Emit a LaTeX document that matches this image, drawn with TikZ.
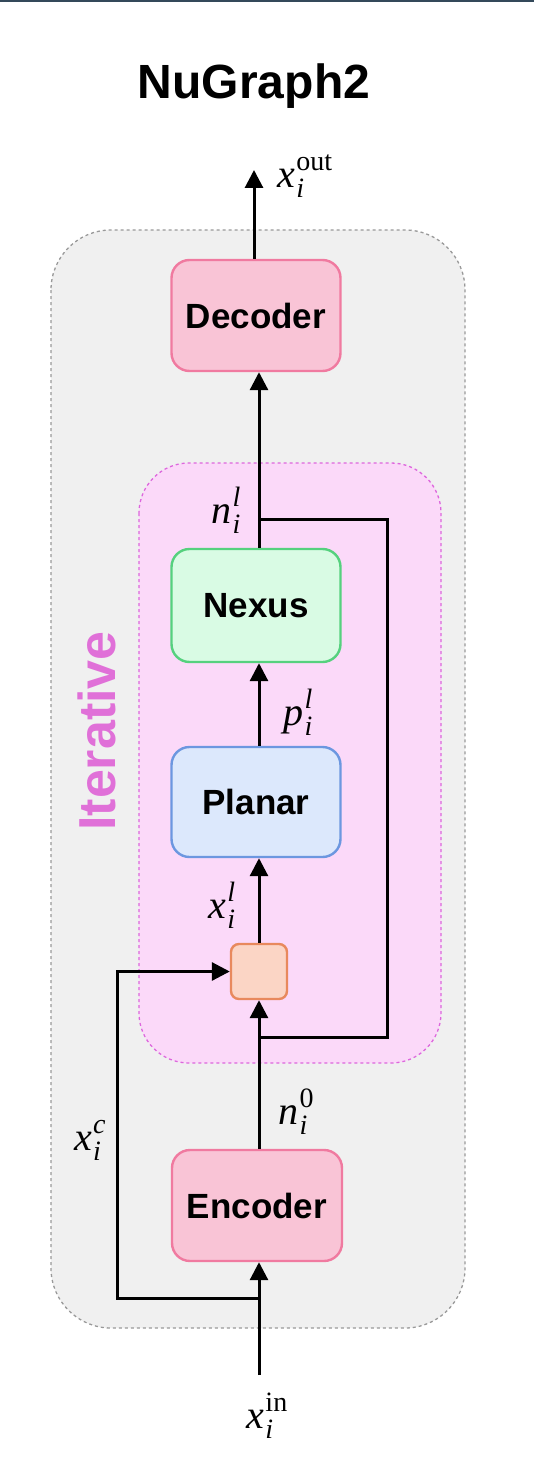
\documentclass[tikz,border=0pt]{standalone}
\usepackage{fontspec}
\newfontfamily\hel{Liberation Sans}
\newfontfamily\tms{Liberation Serif}
\usetikzlibrary{arrows.meta}
\definecolor{topbar}{HTML}{34495A}
\definecolor{outerfill}{HTML}{F0F0F0}
\definecolor{outerline}{HTML}{999999}
\definecolor{iterfill}{HTML}{FBD9F9}
\definecolor{iterline}{HTML}{DD66DD}
\definecolor{itertext}{HTML}{E070D8}
\definecolor{pinkfill}{HTML}{F9C4D6}
\definecolor{pinkline}{HTML}{F07AA0}
\definecolor{greenfill}{HTML}{D9FBE4}
\definecolor{greenline}{HTML}{55D17E}
\definecolor{bluefill}{HTML}{DCE8FC}
\definecolor{blueline}{HTML}{6C97E0}
\definecolor{peachfill}{HTML}{FBD5C5}
\definecolor{peachline}{HTML}{E8895D}
% symbol label: #1 base (italic), #2 superscript (already styled)
\newcommand\symlab[2]{{\tms\fontsize{40}{42}\selectfont\itshape #1}\hspace{1pt}%
  \rlap{\raisebox{-10pt}{\tms\fontsize{28}{28}\selectfont\itshape i}}%
  \raisebox{17pt}{\tms\fontsize{28}{28}\selectfont #2}}
\tikzset{
  block/.style={rounded corners=18pt, line width=2.4pt, minimum width=169pt,
    minimum height=111pt, inner sep=0pt, text=black,
    font=\hel\bfseries\fontsize{35}{38}\selectfont},
  wire/.style={line width=3pt, black},
  conn/.style={wire, -{Triangle[length=18pt,width=18pt]}},
  lbl/.style={inner sep=0pt},
}
\begin{document}
\begin{tikzpicture}[x=1pt,y=-1pt]
\useasboundingbox (0,0) rectangle (534,1463);
\fill[topbar] (0,0) rectangle (534,2.5);
% containers
\draw[fill=outerfill, draw=outerline, line width=1.3pt, dash pattern=on 3pt off 3pt,
  rounded corners=60pt] (51,230) rectangle (465,1328);
\draw[fill=iterfill, draw=iterline, line width=1.3pt, dash pattern=on 3pt off 3pt,
  rounded corners=50pt] (139,463) rectangle (441,1063);
% title and side label
\node[font=\hel\bfseries\fontsize{48}{50}\selectfont, inner sep=0pt] (title) at (254,86) {NuGraph2};
\node[rotate=90, text=itertext, inner sep=0pt,
  font=\hel\bfseries\fontsize{52}{54}\selectfont] (iter) at (97,731) {Iterative};
% blocks
\node[block, fill=pinkfill, draw=pinkline] (dec) at (256,315.5) {Decoder};
\node[block, fill=greenfill, draw=greenline, minimum height=113pt] (nex) at (256,605.5) {Nexus};
\node[block, fill=bluefill, draw=blueline, minimum height=110pt] (pla) at (256,802) {Planar};
\node[block, fill=pinkfill, draw=pinkline, minimum width=170pt] (enc) at (257,1205.5) {Encoder};
\node[fill=peachfill, draw=peachline, line width=2.4pt, rounded corners=8pt,
  minimum width=56pt, minimum height=55pt, inner sep=0pt] (mix) at (259,971.5) {};
% helper coordinates
\coordinate (mx) at (259,0);
\coordinate (ox) at (254,0);
\coordinate (out) at (254,170);
\coordinate (in) at (259,1375);
\coordinate (fbtop) at (259,519);
\coordinate (fbr1) at (387,519);
\coordinate (fbr2) at (387,1037);
\coordinate (fbbot) at (259,1037);
\coordinate (xc1) at (259,1298);
\coordinate (xc2) at (117,1298);
\coordinate (xc3) at (117,971.5);
% connectors
\draw[conn] (dec.north -| ox) -- (out);
\draw[conn] (nex.north -| mx) -- (dec.south -| mx);
\draw[wire] (fbtop) -- (fbr1) -- (fbr2) -- (fbbot);
\draw[conn] (pla.north -| mx) -- (nex.south -| mx);
\draw[conn] (mix.north) -- (pla.south -| mx);
\draw[conn] (enc.north -| mx) -- (mix.south);
\draw[conn] (in) -- (enc.south -| mx);
\draw[conn] (xc1) -- (xc2) -- (xc3) -- (mix.west);
% labels
\node[lbl] (lout) at (305,176) {\symlab{x}{out}};
\node[lbl] (lnl) at (226,510) {\symlab{n}{\itshape l}};
\node[lbl] (lpl) at (298,712) {\symlab{p}{\itshape l}};
\node[lbl] (lxl) at (222,905) {\symlab{x}{\itshape l}};
\node[lbl] (lxc) at (90,1140) {\symlab{x}{\itshape c}};
\node[lbl] (ln0) at (296,1112) {\symlab{n}{0}};
\node[lbl] (lin) at (267,1416) {\symlab{x}{in}};
\end{tikzpicture}
\end{document}
